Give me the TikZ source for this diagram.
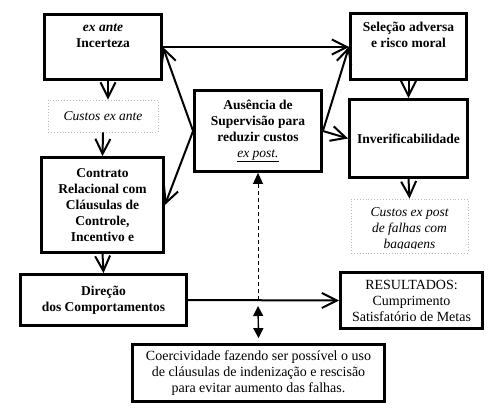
\documentclass[tikz,border=0pt]{standalone}
\usepackage{fontspec}
\setmainfont{Liberation Serif}
\usetikzlibrary{arrows.meta,positioning,calc}
\definecolor{dotgray}{RGB}{185,185,185}
\tikzset{
  box/.style={rectangle,draw=black,line width=2.8pt,fill=white,
              inner sep=0pt,align=center,
              font=\fontsize{13.5}{16}\selectfont\bfseries},
  cbox/.style={rectangle,draw=dotgray,dotted,line width=0.9pt,
               inner sep=0pt,align=center,
               font=\fontsize{13.5}{16}\selectfont\itshape},
  arr/.style={-{Straight Barb[length=15pt,width=15pt]},line width=2pt},
}

\begin{document}
\begin{tikzpicture}[x=1pt,y=1pt,
  txt/.style={inner sep=0pt,align=center,
              font=\fontsize{13.5}{16}\selectfont\bfseries},
  plain/.style={font=\fontsize{14}{16}\selectfont\mdseries},
  dashline/.style={dashed,line width=0.9pt,dash pattern=on 4pt off 3pt,
                   -{Triangle[length=11pt,width=10pt]}},
  both/.style={line width=1.4pt,
               {Triangle[length=10pt,width=10pt]}-{Triangle[length=10pt,width=10pt]}}
]
  \useasboundingbox (0,0) rectangle (500,-410);

  % left column
  \node[box,minimum width=117pt,minimum height=65pt] (inc) at (103,-47) {};
  \node[txt] (inc-t) at (103,-36) {\textit{ex ante}\\Incerteza};
  \node[cbox,minimum width=110pt,minimum height=32pt] (cante) at (103,-116) {Custos ex ante};
  \node[box,minimum width=122pt,minimum height=95pt] (contr) at (102.5,-205)
    {Contrato\\Relacional com\\Cláusulas de\\Controle,\\Incentivo e};
  \node[box,minimum width=166pt,minimum height=51pt] (dir) at (103.5,-300)
    {Direção\\dos Comportamentos};

  % middle
  \node[box,minimum width=127pt,minimum height=81pt] (sup) at (258,-131)
    {Ausência de\\Supervisão para\\reduzir custos\\{\mdseries\underline{\textit{ex post.}}}};

  % right column
  \node[box,minimum width=116pt,minimum height=66pt] (sel) at (408.5,-46.5) {};
  \node[txt] (sel-t) at (408.5,-35) {Seleção adversa\\e risco moral};
  \node[box,minimum width=118pt,minimum height=78pt] (inv) at (408.5,-138.5) {Inverificabilidade};
  \node[cbox,minimum width=117pt,minimum height=54pt] (cpost) at (409.5,-226) {};
  \begin{scope}
    \clip (cpost.north west) rectangle ([yshift=5pt]cpost.south east);
    \node[txt,font=\fontsize{13.5}{16}\selectfont\mdseries\itshape] (cpost-t) at (409.5,-229)
      {Custos ex post\\de falhas com\\bagagens};
  \end{scope}
  \node[box,plain,minimum width=142pt,minimum height=56pt] (res) at (411.5,-300.5)
    {RESULTADOS:\\Cumprimento\\Satisfatório de Metas};
  \node[box,plain,minimum width=252pt,minimum height=57pt] (coer) at (258.5,-373)
    {Coercividade fazendo ser possível o uso\\de cláusulas de indenização e rescisão\\para evitar aumento das falhas.};

  % vertical flow
  \draw[arr] ([xshift=5pt]inc.south) -- ([xshift=5pt]cante.north);
  \draw[arr] (cante.south) -- (contr.north);
  \draw[arr] (contr.south) -- (dir.north);
  \draw[arr] (sel.south) -- (inv.north);
  \draw[arr] (inv.south) -- (cpost.north);

  % cross links
  \draw[arr] (inc.east) -- (inc.east -| sel.west);
  \draw[arr] (sup.west) -- (inc.east);
  \draw[arr] (sup.west) -- (contr.east);
  \draw[arr] (sup.east) -- (sel.west);
  \draw[arr] (sup.east) -- (inv.west);
  \draw[arr] (dir.east) -- (res.west);

  % coercion
  \coordinate (mid) at (sup.south |- dir.east);
  \draw[dashline] (mid) -- (sup.south);
  \draw[both] ([yshift=-6pt]mid) -- ([yshift=5pt]coer.north);
\end{tikzpicture}
\end{document}
